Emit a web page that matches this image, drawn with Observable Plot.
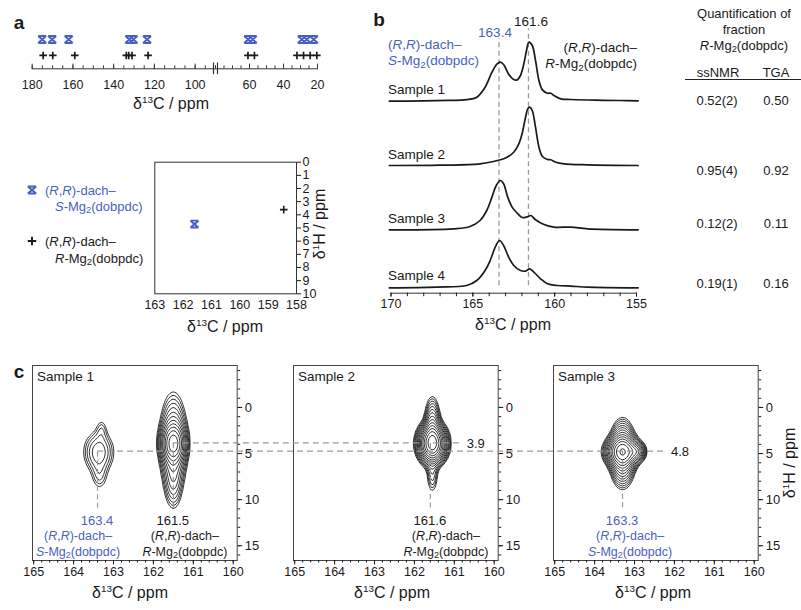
<!DOCTYPE html>
<html>
<head>
<meta charset="utf-8">
<script src="https://cdn.jsdelivr.net/npm/d3@7"></script>
<script src="https://cdn.jsdelivr.net/npm/@observablehq/plot@0.6"></script>
<style>
  html, body { margin: 0; padding: 0; background: #fff; }
  #fig { position: relative; width: 801px; height: 610px; overflow: hidden;
         font-family: "Liberation Sans", Arial, Helvetica, sans-serif; color: #1a1a1a; }
  .abs { position: absolute; white-space: nowrap; line-height: 1; }
  sub { font-size: 0.72em; vertical-align: -0.28em; line-height: 0; }
  sup { font-size: 0.62em; vertical-align: 0.6em; line-height: 0; }
</style>
</head>
<body>
<div id="fig"></div>
<script>
// ================= DATA =================
// Panel a: 13C shifts (ppm) of the two diastereomers
const shiftsS = [175.1, 170.2, 162.1, 132.3, 130.3, 123.6, 60.8, 58.1, 29.2, 26.3, 22.2];
const shiftsR = [174.6, 169.9, 159.1, 133.8, 132.6, 131.0, 123.1, 60.9, 57.1, 32.1, 28.2, 24.3, 20.4];
const aTickLabels = [180, 160, 140, 120, 100, 60, 40, 20];
// Panel a inset: [13C ppm, 1H ppm]
const insetS = [[161.6, 4.7]];
const insetR = [[158.45, 3.6]];
const insetXTicks = [163, 162, 161, 160, 159, 158];
const insetYTicks = [0, 1, 2, 3, 4, 5, 6, 7, 8, 9, 10];

// Panel b: 1D 13C spectra, [ppm, intensity (a.u.)]
const spectrum1 = [[170.1,0],[168,0.3],[166.5,0.8],[165.4,1.5],[164.76,4],[164.25,14],[163.83,29],[163.53,37],[163.32,39],[163.12,36.7],[162.81,27],[162.5,21.7],[162.29,21.3],[162.09,25.7],[161.89,37],[161.72,50.7],[161.58,59],[161.37,55.7],[161.17,40.7],[160.96,20.7],[160.75,11.3],[160.44,8],[160.24,8],[160.04,5.7],[159.62,2.3],[159.01,1.7],[157.5,1],[156,0.7],[154.9,0.3]];
const spectrum2 = [[170.1,0],[167,0.3],[164.56,1.7],[163.74,4],[163.32,5.7],[162.91,8.3],[162.5,13.3],[162.19,21.7],[161.99,31.7],[161.78,48.3],[161.64,56.7],[161.52,58.3],[161.37,55],[161.17,38.3],[160.96,18.3],[160.75,9],[160.44,6],[160.24,5.7],[159.93,3.3],[159.42,1.7],[157.98,0.7],[154.9,0]];
const spectrum3 = [[170.1,0],[166.2,1],[165.17,3.3],[164.56,9.3],[164.15,19.3],[163.83,32.7],[163.57,44.3],[163.32,49.3],[163.12,46],[162.87,32.7],[162.6,22.7],[162.29,16.7],[161.99,12.3],[161.68,13],[161.45,14.3],[161.17,10],[160.65,5.3],[160.04,2.7],[159.01,2.7],[157.98,1],[154.9,0]];
const spectrum4 = [[170.1,0],[167.23,0.7],[165.38,2.3],[164.76,7.3],[164.25,17.3],[163.94,27.3],[163.63,40.7],[163.37,47.3],[163.12,42.3],[162.81,30.7],[162.5,22.3],[162.09,17.3],[161.78,16.7],[161.52,19],[161.27,15.7],[160.86,9],[160.44,4],[159.83,2.3],[159.01,1.7],[157.98,0.7],[154.9,0]];
const sampleNames = ["Sample 1", "Sample 2", "Sample 3", "Sample 4"];
const peakS = 163.4, peakR = 161.6;
const bTickLabels = [170, 165, 160, 155];

// Table
const ssNMR = ["0.52(2)", "0.95(4)", "0.12(2)", "0.19(1)"];
const TGA = ["0.50", "0.92", "0.11", "0.16"];

// Panel c: 2D HETCOR peaks, [13C centre, 1H centre, 13C width, 1H width, amplitude]
const peaksC1 = [[163.37,4.85,0.22,1.3,0.13],[163.30,2.4,0.09,0.8,0.04],[163.35,7.5,0.13,1.0,0.05],
                 [161.5,3.9,0.15,1.1,0.75],[161.5,3.9,0.17,2.6,0.3],[161.5,8.0,0.12,1.7,0.1]];
const peaksC2 = [[161.55,3.9,0.167,1.0,1.6],[161.55,2.8,0.1,1.75,0.4],[161.55,7.3,0.08,1.2,0.08]];
const peaksC3 = [[163.3,4.8,0.2,0.8,1.0],[163.3,5.0,0.15,1.6,0.6],[162.95,4.8,0.11,0.5,0.35]];
const contourLevels = [0.03,0.0405,0.0547,0.0738,0.0997,0.1346,0.1817,0.2453,0.3311,0.447,0.6034,0.8146,1.0997,1.4846,2.004];
const cXTicks = [165, 164, 163, 162, 161, 160];
const cYTicks = [0, 5, 10, 15];
// assigned peaks: panel, 13C, 1H, label, form
const cAssign = [[0,163.4,4.85,"163.4","S"],[0,161.5,3.9,"161.5","R"],[1,161.6,3.9,"161.6","R"],[2,163.3,4.8,"163.3","S"]];
// 1H correlation lines: [1H value, label, from panel, from 13C, to panel, to 13C]
const hLinks = [[3.9,"3.9",0,161.5,1,160.8],[4.8,"4.8",0,163.4,2,162.2]];

// ================= HELPERS =================
const BLUE = "#4a5fc1", INK = "#1a1a1a", DASH = "#9a9a9a";
const FONT = '"Liberation Sans", Arial, Helvetica, sans-serif';
const fig = document.getElementById("fig");
const baseStyle = {fontFamily: FONT, fontSize: "12px", color: INK, background: "transparent", overflow: "visible"};
const fmt = d => String(d);
function put(el, left, top) { el.style.position = "absolute"; el.style.left = left + "px"; el.style.top = top + "px"; fig.appendChild(el); return el; }
function label(html, x, y, o = {}) {
  const d = document.createElement("div");
  d.className = "abs"; d.innerHTML = html;
  d.style.left = x + "px"; d.style.top = y + "px";
  d.style.fontSize = (o.size || 12) + "px"; d.style.color = o.color || INK;
  if (o.bold) d.style.fontWeight = "bold";
  const a = o.anchor || "start";
  const tx = a === "start" ? "0" : a === "middle" ? "-50%" : "-100%";
  d.style.transform = `translate(${o.rotate ? "-50%" : tx}, -50%)` + (o.rotate ? ` rotate(${o.rotate}deg)` : "");
  fig.appendChild(d); return d;
}
const bowtie = {draw(ctx, size) { const r = Math.sqrt(size / Math.PI), b = r * 0.85;
  ctx.moveTo(-r, -b); ctx.lineTo(r, b); ctx.moveTo(r, -b); ctx.lineTo(-r, b);
  ctx.moveTo(-r, -b); ctx.lineTo(r, -b); ctx.moveTo(-r, b); ctx.lineTo(r, b); }};
const plusSym = {draw(ctx, size) { const r = Math.sqrt(size / Math.PI);
  ctx.moveTo(-r, 0); ctx.lineTo(r, 0); ctx.moveTo(0, -r); ctx.lineTo(0, r); }};
const RS = '(<i>R</i>,<i>R</i>)-dach–';
const MG = f => `<i>${f}</i>-Mg<sub>2</sub>(dobpdc)`;
const C13 = 'δ<sup>13</sup>C / ppm', H1 = 'δ<sup>1</sup>H / ppm';

// ================= PANEL a (1D shifts) =================
const aMinor = [...d3.range(180, 89, -5), ...d3.range(80, 19, -5)];
const pa = Plot.plot({
  width: 340, height: 120, marginLeft: 31.7, marginRight: 23, marginTop: 39, marginBottom: 51.7,
  style: baseStyle,
  x: {type: "linear", domain: [180, 90, 80, 20], range: [31.7, 215, 215, 317], axis: null},
  y: {domain: [0, 2], axis: null},
  marks: [
    Plot.frame({anchor: "bottom", stroke: "#333"}),
    Plot.ruleX(aMinor, {x: d => d, y1: 0, y2: 0.2, stroke: "#333"}),
    Plot.ruleX(aTickLabels, {x: d => d, y1: -0.05, y2: 0.32, stroke: "#333"}),
    Plot.axisX({ticks: aTickLabels, tickSize: 0, tickPadding: 11, tickFormat: fmt, label: null, fontSize: 12.5}),
    Plot.ruleX([90], {x: d => d, y1: -0.4, y2: 0.4, dx: -2, stroke: "#333", strokeWidth: 1.2}),
    Plot.ruleX([80], {x: d => d, y1: -0.4, y2: 0.4, dx: 2, stroke: "#333", strokeWidth: 1.2}),
    Plot.dot(shiftsS, {x: d => d, y: 2, symbol: bowtie, r: 4, fill: "none", stroke: BLUE, strokeWidth: 2}),
    Plot.dot(shiftsR, {x: d => d, y: 1, dy: 1.3, symbol: plusSym, r: 3.8, fill: "none", stroke: INK, strokeWidth: 1.7})
  ]
});
put(pa, 0, 0);
label("a", 19, 22, {size: 19, bold: true, anchor: "middle"});
label(C13, 171, 104, {size: 16, anchor: "middle"});

// ---- legend ----
function legendSymbol(sym, cx, cy, color) {
  const s = d3.create("svg").attr("width", 14).attr("height", 14).style("overflow", "visible");
  const p = d3.path(); sym.draw(p, Math.PI * 4.2 * 4.2);
  s.append("path").attr("d", p.toString()).attr("transform", "translate(7,7)")
    .attr("fill", "none").attr("stroke", color).attr("stroke-width", 1.9);
  put(s.node(), cx - 7, cy - 7);
}
legendSymbol(bowtie, 32, 190, BLUE);
label(RS, 45, 190, {size: 13, color: BLUE});
label(MG("S"), 55, 206, {size: 13, color: BLUE});
legendSymbol(plusSym, 32, 241, INK);
label(RS, 45, 241, {size: 13});
label(MG("R"), 55, 258, {size: 13});

// ================= PANEL a inset (2D) =================
const pi = Plot.plot({
  width: 190, height: 190, marginLeft: 14.3, marginRight: 34, marginTop: 11.7, marginBottom: 46.7,
  style: baseStyle,
  x: {domain: [163, 158], axis: null}, y: {domain: [0, 10], reverse: true, axis: null},
  marks: [
    Plot.frame({stroke: "#333"}),
    Plot.axisY({anchor: "right", ticks: insetYTicks, tickSize: 4, tickPadding: 2, tickFormat: fmt, label: null, fontSize: 12.5}),
    Plot.axisX({ticks: insetXTicks, tickSize: 0, tickPadding: 6, tickFormat: fmt, label: null, fontSize: 12.5}),
    Plot.dot(insetS, {x: d => d[0], y: d => d[1], symbol: bowtie, r: 4, fill: "none", stroke: BLUE, strokeWidth: 1.9}),
    Plot.dot(insetR, {x: d => d[0], y: d => d[1], symbol: plusSym, r: 3.8, fill: "none", stroke: INK, strokeWidth: 1.6})
  ]
});
put(pi, 140, 150);
label(C13, 225, 327, {size: 16, anchor: "middle"});
label(H1, 320, 224, {size: 16, rotate: -90});

// ================= PANEL b (1D spectra) =================
const spectra = [spectrum1, spectrum2, spectrum3, spectrum4];
const stackOffset = [186.6, 122.3, 58, 0];
const pb = Plot.plot({
  width: 270, height: 345, marginLeft: 15.5, marginRight: 9, marginTop: 25.3, marginBottom: 52.3,
  style: baseStyle,
  x: {domain: [170, 155], axis: null}, y: {domain: [-5.4, 262], axis: null},
  marks: [
    Plot.ruleX([peakS], {x: d => d, y1: 2, y2: 249, stroke: DASH, strokeWidth: 1.3, strokeDasharray: "5,3.5"}),
    Plot.ruleX([peakR], {x: d => d, y1: 2, y2: 259, stroke: DASH, strokeWidth: 1.3, strokeDasharray: "5,3.5"}),
    Plot.frame({anchor: "bottom", stroke: "#333"}),
    Plot.axisX({ticks: d3.range(155, 171), tickSize: 3.5, tickFormat: () => "", label: null}),
    Plot.axisX({ticks: bTickLabels, tickSize: 4, tickPadding: 2, tickFormat: fmt, label: null, fontSize: 12.5}),
    ...spectra.map((s, i) => Plot.line(s, {x: d => d[0], y: d => d[1] + stackOffset[i],
      curve: "catmull-rom", stroke: INK, strokeWidth: 1.7}))
  ]
});
put(pb, 375, 0);
label("b", 379, 19, {size: 19, bold: true, anchor: "middle"});
label(String(peakS), 495, 33, {size: 13.5, color: BLUE, anchor: "middle"});
label(String(peakR), 531, 22, {size: 13.5, anchor: "middle"});
label(RS, 388, 45, {size: 13.5, color: BLUE});
label(MG("S"), 388, 61, {size: 13.5, color: BLUE});
label(RS, 637, 48, {size: 13.5, anchor: "end"});
label(MG("R"), 637, 64, {size: 13.5, anchor: "end"});
[90, 155, 219, 276].forEach((y, i) => label(sampleNames[i], 388, y, {size: 13.5}));
label(C13, 513, 325, {size: 16, anchor: "middle"});

// ================= TABLE =================
label("Quantification of", 744, 13, {size: 13, anchor: "middle"});
label("fraction", 744, 29, {size: 13, anchor: "middle"});
label(MG("R"), 744, 45, {size: 13, anchor: "middle"});
label("ssNMR", 718, 72, {size: 13, anchor: "middle"});
label("TGA", 776, 72, {size: 13, anchor: "middle"});
{ const rule = document.createElement("div"); rule.style.cssText = "position:absolute;left:685px;top:78.5px;width:116px;height:1.3px;background:#222"; fig.appendChild(rule); }
[100, 170, 223, 283].forEach((y, i) => { label(ssNMR[i], 717, y, {size: 13, anchor: "middle"}); label(TGA[i], 776, y, {size: 13, anchor: "middle"}); });

// ================= PANEL c (2D HETCOR) =================
const peaksC = [peaksC1, peaksC2, peaksC3];
const cLeft = [20, 281, 541], cTop = 355;
const surface = peaks => (x, y) => {
  let v = 0;
  for (const [c, h, sc, sh, a] of peaks) v += a * Math.exp(-((x - c) ** 2) / (2 * sc * sc) - ((y - h) ** 2) / (2 * sh * sh));
  return v;
};
const plotsC = peaksC.map((peaks, i) => {
  const assigned = cAssign.filter(d => d[0] === i);
  const p = Plot.plot({
    width: 260, height: 255, marginLeft: 12, marginRight: 43.3, marginTop: 10, marginBottom: 50,
    style: baseStyle,
    x: {domain: [165.03, 159.9], axis: null}, y: {domain: [-4.55, 16.6], reverse: true, axis: null},
    marks: [
      Plot.contour({value: surface(peaks), x1: 165.03, x2: 159.9, y1: -4.55, y2: 16.6,
        thresholds: contourLevels, stroke: INK, fill: "none", strokeWidth: 0.9}),
      Plot.ruleX(assigned, {x: d => d[1], y1: d => d[2], y2: 10.95, stroke: DASH, strokeWidth: 1.2, strokeDasharray: "5,3.5"}),
      Plot.frame({stroke: "#444"}),
      Plot.axisX({ticks: d3.range(160, 165.01, 0.2), tickSize: 2.5, tickFormat: () => "", label: null}),
      Plot.axisX({ticks: cXTicks, tickSize: 4.5, tickPadding: 2, tickFormat: fmt, label: null, fontSize: 12.5}),
      Plot.axisY({anchor: "right", ticks: d3.range(-4, 17), tickSize: 2.5, tickFormat: () => "", label: null}),
      Plot.axisY({anchor: "right", ticks: cYTicks, tickSize: 4.5, tickPadding: 3, tickFormat: fmt, label: null, fontSize: 13})
    ]
  });
  put(p, cLeft[i], cTop);
  return p;
});

// correlation lines across the panels
const ov = d3.create("svg").attr("width", 801).attr("height", 610).style("pointer-events", "none");
for (const [h, txt, from, fx, to, tx] of hLinks) {
  const y = cTop + plotsC[from].scale("y").apply(h);
  const x1 = cLeft[from] + plotsC[from].scale("x").apply(fx);
  const x2 = cLeft[to] + plotsC[to].scale("x").apply(tx);
  ov.append("line").attr("x1", x1).attr("x2", x2).attr("y1", y).attr("y2", y)
    .attr("stroke", DASH).attr("stroke-width", 1.2).attr("stroke-dasharray", "6,4");
  label(txt, x2 + 5, y, {size: 13});
}
put(ov.node(), 0, 0);

// labels for panel c
label("c", 19, 370.5, {size: 19, bold: true, anchor: "middle"});
["Sample 1", "Sample 2", "Sample 3"].forEach((s, i) => label(s, cLeft[i] + 17, 377, {size: 13.5}));
const blockShift = [-19, 12, 16, 8];
cAssign.forEach(([panel, c, h, val, form], k) => {
  const x = cLeft[panel] + plotsC[panel].scale("x").apply(c);
  const col = form === "S" ? BLUE : INK;
  label(val, x, 520, {size: 13, color: col, anchor: "middle"});
  label(RS, x + blockShift[k], 536, {size: 12.5, color: col, anchor: "middle"});
  label(MG(form), x + blockShift[k], 552, {size: 12.5, color: col, anchor: "middle"});
});
[130, 392, 653].forEach(x => label(C13, x, 593, {size: 16, anchor: "middle"}));
label(H1, 790, 463, {size: 16, rotate: -90});
</script>
</body>
</html>
